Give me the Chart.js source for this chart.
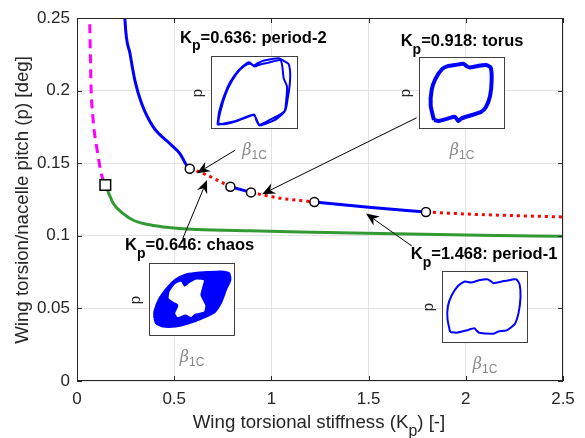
<!DOCTYPE html>
<html>
<head>
<meta charset="utf-8">
<script src="https://cdn.jsdelivr.net/npm/chart.js@4.4.1/dist/chart.umd.min.js"></script>
<style>
  body { margin: 0; background: #fff; }
  #wrap { position: relative; width: 585px; height: 438px; font-family: "Liberation Sans", Arial, sans-serif; }
  #main { position: absolute; left: 0; top: 0; }
  .inset { position: absolute; box-sizing: border-box; border: 1.5px solid #404040; background: #fff; }
  .inset canvas { display: block; }
  .plab { position: absolute; font-size: 15px; color: #262626; transform: translate(-50%, -50%) rotate(-90deg); }
  .blab { position: absolute; color: #888; font-size: 16px; transform: translate(-50%, -50%); white-space: nowrap; }
  .blab i { font-family: "DejaVu Serif", serif; }
  .blab sub { font-size: 12px; }
</style>
</head>
<body>
<div id="wrap">
  <canvas id="main" width="585" height="438"></canvas>
</div>
<script>
// main branches: wing torsional stiffness K_p vs pitch amplitude p [deg]
const magentaK = [0.064, 0.065, 0.0686, 0.072, 0.0823, 0.104, 0.127, 0.1457];
const magentaP = [0.256, 0.2495, 0.2266, 0.2037, 0.1808, 0.1588, 0.1416, 0.135];

const upperK = [0.245, 0.247, 0.273, 0.298, 0.333, 0.393, 0.478, 0.530, 0.564, 0.580];
const upperP = [0.256, 0.2482, 0.2253, 0.2069, 0.1909, 0.1748, 0.1634, 0.1565, 0.1485, 0.1462];

const red1K = [0.580, 0.634, 0.686, 0.737, 0.789];
const red1P = [0.1462, 0.1437, 0.1407, 0.1373, 0.1338];
const blue1K = [0.789, 0.895];
const blue1P = [0.1338, 0.1299];
const red2K = [0.895, 0.95, 1.0, 1.05, 1.1, 1.15, 1.221];
const red2P = [0.1299, 0.1283, 0.127, 0.1258, 0.125, 0.1243, 0.1233];
const blue2K = [1.221, 1.5, 1.795];
const blue2P = [0.1233, 0.1196, 0.1164];
const red3K = [1.795, 2.0, 2.25, 2.5];
const red3P = [0.1164, 0.1150, 0.1139, 0.1130];

const greenK = [0.1457, 0.161, 0.187, 0.238, 0.290, 0.359, 0.444, 0.530, 0.616, 0.89, 1.147, 1.559, 2.073, 2.5];
const greenP = [0.135, 0.1301, 0.1222, 0.1153, 0.1107, 0.1079, 0.1061, 0.1050, 0.1044, 0.1034, 0.1026, 0.1015, 0.1004, 0.0997];

const circleK = [0.580, 0.789, 0.895, 1.221, 1.795];
const circleP = [0.1462, 0.1338, 0.1299, 0.1233, 0.1164];
const squareK = [0.1457];
const squareP = [0.135];

const xTicks = [0, 0.5, 1, 1.5, 2, 2.5];
const yTicks = [0, 0.05, 0.1, 0.15, 0.2, 0.25];

// phase portraits (beta_1C, p), arbitrary units
const period2 = [[17,7],[22,47],[37,97],[57,142],[82,177],[107,199],[117,202],[127,192],[137,197],[157,207],[182,212],[207,215],[222,207],[237,197],[242,167],[240,127],[234,87],[227,52],[202,27],[172,12],[147,5],[137,22],[132,37],[112,32],[72,17],[42,9],[20,12],[27,52],[42,102],[62,145],[87,180],[110,197],[122,197],[132,189],[147,195],[177,202],[212,209],[218,187],[222,152],[232,127],[230,87],[224,49],[182,24],[147,7],[137,25],[130,39],[110,33],[70,18],[17,7]];
const torus = [[43,22],[33,67],[36,117],[48,152],[68,182],[88,192],[108,195],[133,199],[143,192],[153,187],[178,192],[203,195],[218,187],[221,147],[216,97],[203,62],[188,47],[158,37],[128,27],[118,19],[108,32],[88,27],[58,19],[43,22]];
const chaosOuter = [[15,50],[15,70],[30,110],[55,145],[80,170],[110,185],[140,190],[180,193],[220,195],[245,190],[248,170],[235,140],[220,100],[200,70],[160,50],[120,35],[80,25],[40,25],[20,35],[15,50]];
const chaosHole = [[58,135],[75,158],[98,168],[108,152],[120,162],[145,174],[170,170],[165,145],[160,122],[175,90],[170,68],[140,60],[128,50],[110,58],[85,50],[75,65],[85,90],[68,100],[55,112],[58,135]];
const period1 = [[22,28],[14,68],[15,108],[27,143],[47,173],[67,186],[87,183],[112,190],[137,193],[147,188],[157,181],[182,186],[212,192],[227,193],[237,178],[240,138],[234,88],[222,53],[197,33],[172,30],[157,23],[112,26],[104,33],[97,40],[72,33],[42,26],[22,28]];

// annotations in data coordinates
const arrows = [
  { from: [0.814, 0.159], to: [0.617, 0.143] },
  { from: [1.747, 0.1813], to: [0.952, 0.1286] },
  { from: [0.544, 0.0981], to: [0.669, 0.1384] },
  { from: [1.722, 0.0930], to: [1.487, 0.1153] }
];
const notes = [
  { kp: '0.636', kind: 'period-2', at: [0.530, 0.233] },
  { kp: '0.918', kind: 'torus', at: [1.665, 0.2306] },
  { kp: '0.646', kind: 'chaos', at: [0.247, 0.090] },
  { kp: '1.468', kind: 'period-1', at: [1.717, 0.0839] }
];

const FONT = '"Liberation Sans", Arial, sans-serif';
Chart.defaults.font.family = FONT;

const zip = (xs, ys) => xs.map((x, i) => ({ x: x, y: ys[i] }));

function curve(xs, ys, color, dash) {
  return {
    data: zip(xs, ys), showLine: true, borderColor: color, borderWidth: 3,
    borderDash: dash || [], pointRadius: 0, cubicInterpolationMode: 'monotone'
  };
}

function drawRich(ctx, x, y, parts, size, bold, align) {
  const f = s => (bold ? 'bold ' : '') + s + 'px ' + FONT;
  let w = 0;
  parts.forEach(p => { ctx.font = f(p.sub ? size * 0.85 : size); p.w = ctx.measureText(p.t).width; w += p.w; });
  let cx = align === 'center' ? x - w / 2 : x;
  ctx.textAlign = 'left';
  ctx.textBaseline = 'alphabetic';
  parts.forEach(p => {
    ctx.font = f(p.sub ? size * 0.85 : size);
    ctx.fillText(p.t, cx, y + (p.sub ? size * 0.45 : 0));
    cx += p.w;
  });
}

function arrow(ctx, x0, y0, x1, y1) {
  const a = Math.atan2(y1 - y0, x1 - x0);
  const L = 13, H = 5.5, N = 9;
  ctx.beginPath();
  ctx.moveTo(x0, y0);
  ctx.lineTo(x1 - Math.cos(a) * N, y1 - Math.sin(a) * N);
  ctx.stroke();
  const bx = x1 - Math.cos(a) * L, by = y1 - Math.sin(a) * L;
  const nx = -Math.sin(a) * H, ny = Math.cos(a) * H;
  ctx.beginPath();
  ctx.moveTo(x1, y1);
  ctx.lineTo(bx + nx, by + ny);
  ctx.lineTo(x1 - Math.cos(a) * N, y1 - Math.sin(a) * N);
  ctx.lineTo(bx - nx, by - ny);
  ctx.closePath();
  ctx.fill();
}

const decor = {
  id: 'decor',
  afterDatasetsDraw(chart) {
    const { ctx, chartArea: a, scales: { x, y } } = chart;
    ctx.save();
    // axes box + inward ticks
    ctx.strokeStyle = '#262626';
    ctx.lineWidth = 1;
    ctx.strokeRect(a.left + 0.5, a.top + 0.5, a.right - a.left - 1, a.bottom - a.top - 1);
    ctx.beginPath();
    xTicks.forEach(v => {
      const px = Math.round(x.getPixelForValue(v)) + 0.5;
      ctx.moveTo(px, a.bottom); ctx.lineTo(px, a.bottom - 5);
      ctx.moveTo(px, a.top); ctx.lineTo(px, a.top + 5);
    });
    yTicks.forEach(v => {
      const py = Math.round(y.getPixelForValue(v)) + 0.5;
      ctx.moveTo(a.left, py); ctx.lineTo(a.left + 5, py);
      ctx.moveTo(a.right, py); ctx.lineTo(a.right - 5, py);
    });
    ctx.stroke();

    // axis titles
    ctx.fillStyle = '#262626';
    drawRich(ctx, 319, 428, [{ t: 'Wing torsional stiffness (K' }, { t: 'p', sub: true }, { t: ') [-]' }], 18.7, false, 'center');
    ctx.save();
    ctx.translate(28, 200);
    ctx.rotate(-Math.PI / 2);
    drawRich(ctx, 0, 0, [{ t: 'Wing torsion/nacelle pitch (p) [deg]' }], 18.7, false, 'center');
    ctx.restore();

    // arrows
    ctx.strokeStyle = '#000';
    ctx.fillStyle = '#000';
    ctx.lineWidth = 1;
    arrows.forEach(ar => {
      arrow(ctx, x.getPixelForValue(ar.from[0]), y.getPixelForValue(ar.from[1]),
        x.getPixelForValue(ar.to[0]), y.getPixelForValue(ar.to[1]));
    });

    // labels
    notes.forEach(n => {
      drawRich(ctx, x.getPixelForValue(n.at[0]), y.getPixelForValue(n.at[1]),
        [{ t: 'K' }, { t: 'p', sub: true }, { t: '=' + n.kp + ': ' + n.kind }], 16.5, true, 'left');
    });
    ctx.restore();
  }
};

new Chart(document.getElementById('main'), {
  type: 'scatter',
  data: {
    datasets: [
      { data: zip(circleK, circleP), pointRadius: 4.5, pointBorderWidth: 1.5, pointBackgroundColor: '#fff', pointBorderColor: '#000' },
      { data: zip(squareK, squareP), pointStyle: 'rect', pointRadius: 7.5, pointBorderWidth: 1.5, pointBackgroundColor: '#fff', pointBorderColor: '#000' },
      curve(red1K, red1P, '#ff0000', [3, 4]),
      curve(red2K, red2P, '#ff0000', [3, 4]),
      curve(red3K, red3P, '#ff0000', [3, 4]),
      curve(blue1K, blue1P, '#0000ff'),
      curve(blue2K, blue2P, '#0000ff'),
      curve(upperK, upperP, '#0000ff'),
      curve(magentaK, magentaP, '#ff00ff', [9, 6]),
      curve(greenK, greenP, '#339933')
    ]
  },
  options: {
    responsive: false,
    animation: false,
    devicePixelRatio: 1,
    events: [],
    layout: { padding: { top: 18, right: 22, left: 0, bottom: 0 } },
    plugins: { legend: { display: false }, tooltip: { enabled: false } },
    scales: {
      x: {
        type: 'linear', min: 0, max: 2.5,
        afterFit: s => { s.height = 57; },
        afterBuildTicks: s => { s.ticks = xTicks.map(v => ({ value: v })); },
        ticks: { color: '#262626', font: { size: 17 }, padding: 8, callback: v => String(v) },
        grid: { color: '#e3e3e3', drawTicks: false },
        border: { display: false }
      },
      y: {
        type: 'linear', min: 0, max: 0.25,
        afterFit: s => { s.width = 77; },
        afterBuildTicks: s => { s.ticks = yTicks.map(v => ({ value: v })); },
        ticks: { color: '#262626', font: { size: 17 }, padding: 7, callback: v => String(v) },
        grid: { color: '#e3e3e3', drawTicks: false },
        border: { display: false }
      }
    }
  },
  plugins: [decor]
});

// inset phase portraits
const insets = [
  { box: [211, 56, 87, 73], range: [260, 219], loops: [{ pts: period2, w: 2 }] },
  { box: [419, 57, 86, 72], range: [256, 217], loops: [{ pts: torus, w: 4 }] },
  { box: [149, 263, 86, 73], range: [258, 220], loops: [{ pts: chaosHole, w: 2, fill: '#fff' }, { pts: chaosOuter, w: 3, fill: '#0000ff' }] },
  { box: [442, 271, 86, 72], range: [257, 216], loops: [{ pts: period1, w: 2 }] }
];

const wrap = document.getElementById('wrap');
insets.forEach(ins => {
  const [l, t, w, h] = ins.box;
  const div = document.createElement('div');
  div.className = 'inset';
  div.style.cssText = `left:${l}px;top:${t}px;width:${w}px;height:${h}px;`;
  const cv = document.createElement('canvas');
  cv.width = w - 3; cv.height = h - 3;
  div.appendChild(cv);
  wrap.appendChild(div);

  const pl = document.createElement('div');
  pl.className = 'plab';
  pl.style.cssText = `left:${l - 15}px;top:${t + h / 2}px;`;
  pl.textContent = 'p';
  wrap.appendChild(pl);

  const bl = document.createElement('div');
  bl.className = 'blab';
  bl.style.cssText = `left:${l + w / 2}px;top:${t + h + 22}px;`;
  bl.innerHTML = '<i>&beta;</i><sub>1C</sub>';
  wrap.appendChild(bl);

  new Chart(cv, {
    type: 'scatter',
    data: {
      datasets: ins.loops.map(lp => ({
        data: lp.pts, showLine: true, borderColor: '#0000ff', borderWidth: lp.w,
        backgroundColor: lp.fill || 'transparent', fill: lp.fill ? 'shape' : false,
        pointRadius: 0, tension: 0.2
      }))
    },
    options: {
      responsive: false, animation: false, devicePixelRatio: 1, events: [],
      layout: { padding: 0 },
      plugins: { legend: { display: false }, tooltip: { enabled: false } },
      scales: {
        x: { display: false, min: 0, max: ins.range[0] },
        y: { display: false, min: 0, max: ins.range[1] }
      }
    }
  });
});
</script>
</body>
</html>
